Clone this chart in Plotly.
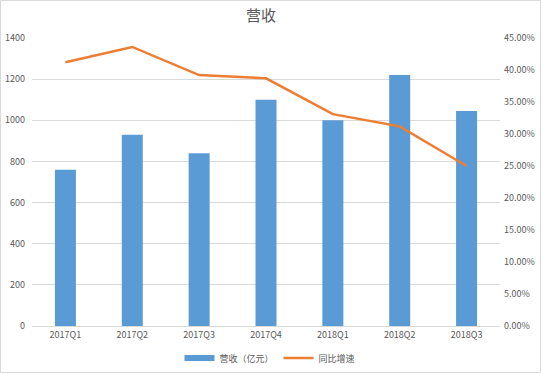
import plotly.graph_objects as go

categories = ["2017Q1", "2017Q2", "2017Q3", "2017Q4", "2018Q1", "2018Q2", "2018Q3"]
revenue = [760, 930, 840, 1100, 1000, 1220, 1045]
growth = [0.412, 0.436, 0.392, 0.387, 0.331, 0.312, 0.250]

W, H = 542, 374
ml, mr, mt, mb = 32, 42, 38, 48
pw, ph = W - ml - mr, H - mt - mb

font_fam = "Noto Sans CJK SC, Microsoft YaHei, sans-serif"
gray = "#595959"
blue = "#5B9BD5"
orange = "#ED7D31"

fig = go.Figure()
fig.add_trace(go.Bar(
    x=categories, y=revenue, name="营收（亿元）",
    marker=dict(color=blue, line=dict(width=0)),
    yaxis="y", showlegend=False,
))
# legend entry for the bars (wide rectangle swatch like the reference)
fig.add_trace(go.Scatter(
    x=[None], y=[None], name="营收（亿元）", mode="lines",
    line=dict(color=blue, width=6), yaxis="y",
))
fig.add_trace(go.Scatter(
    x=categories, y=growth, name="同比增速", mode="lines",
    line=dict(color=orange, width=2.5),
    yaxis="y2",
))

fig.update_layout(
    width=W, height=H,
    margin=dict(l=ml, r=mr, t=mt, b=mb, autoexpand=False),
    paper_bgcolor="white", plot_bgcolor="white",
    font=dict(family=font_fam, size=9, color=gray),
    title=dict(text="营收", x=(261 - ml) / pw, xref="paper", xanchor="center",
               y=1 - 16 / H, yanchor="middle",
               font=dict(size=15, color=gray, family=font_fam)),
    bargap=0.686,
    showlegend=True,
    legend=dict(orientation="h", x=(270 - ml) / pw, xanchor="center", y=-(358 - (H - mb)) / ph,
                yanchor="middle", bgcolor="rgba(0,0,0,0)",
                font=dict(size=9, color=gray), itemwidth=30, tracegroupgap=0),
    xaxis=dict(showgrid=False, showline=True, linecolor="#d9d9d9", linewidth=1, automargin=False,
               ticks="", tickfont=dict(size=9, color=gray), fixedrange=True),
    yaxis=dict(range=[0, 1400], dtick=200, showgrid=True, gridcolor="#d9d9d9", gridwidth=1,
               zeroline=False, showline=False, ticks="", tickfont=dict(size=9, color=gray),
               ticklabelstandoff=6, automargin=False),
    yaxis2=dict(range=[0, 0.45], dtick=0.05, tickformat=".2%", overlaying="y", side="right",
                showgrid=False, zeroline=False, showline=False, ticks="", automargin=False,
                tickfont=dict(size=9, color=gray), ticklabelstandoff=3),
)

fig.add_shape(type="rect", xref="paper", yref="paper",
              x0=-(ml - 0.5) / pw, x1=1 + (mr - 1.5) / pw,
              y0=-(mb - 1.5) / ph, y1=1 + (mt - 0.5) / ph,
              line=dict(color="#d9d9d9", width=1), fillcolor="rgba(0,0,0,0)", layer="below")

fig.write_html("out.html", config={"displayModeBar": False},
               post_script="document.body.style.margin='0';document.body.style.overflow='hidden';")
